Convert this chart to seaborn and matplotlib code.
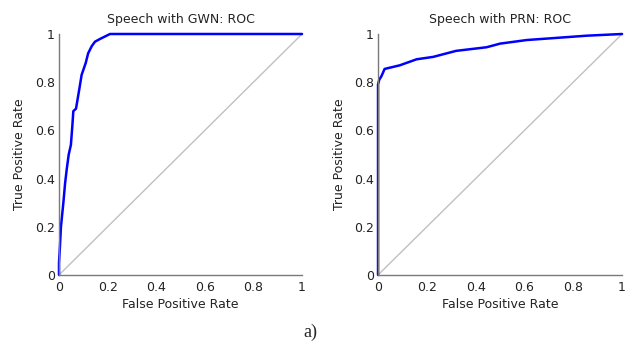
import numpy as np
import pandas as pd
import matplotlib
matplotlib.use("Agg")
import matplotlib.pyplot as plt
import seaborn as sns

# Data
gwn_fpr = [0, 0, 0.004, 0.008, 0.013, 0.018, 0.025, 0.032, 0.040, 0.049, 0.055, 0.059,
           0.070, 0.075, 0.085, 0.093, 0.110, 0.120, 0.135, 0.148, 0.170, 0.210, 1.0]
gwn_tpr = [0, 0.05, 0.12, 0.20, 0.25, 0.30, 0.38, 0.44, 0.50, 0.54, 0.62, 0.68,
           0.69, 0.72, 0.78, 0.83, 0.88, 0.92, 0.95, 0.968, 0.98, 1.0, 1.0]

prn_fpr = [0, 0, 0.005, 0.014, 0.027, 0.089, 0.158, 0.226, 0.320, 0.445, 0.500,
           0.610, 0.720, 0.856, 1.0]
prn_tpr = [0, 0.79, 0.81, 0.825, 0.855, 0.87, 0.895, 0.905, 0.93, 0.945, 0.96,
           0.975, 0.983, 0.993, 1.0]

titles = ["Speech with GWN: ROC", "Speech with PRN: ROC"]
tick_vals = [0, 0.2, 0.4, 0.6, 0.8, 1]
tick_labels = ["0", "0.2", "0.4", "0.6", "0.8", "1"]
diag = [0, 1]

sns.set_style("white")
plt.rcParams['font.family'] = ['DejaVu Sans']

fig = plt.figure(figsize=(6.33, 3.43), dpi=100)
positions = [[0.0932, 0.1983, 0.3839, 0.7026], [0.5972, 0.1983, 0.3855, 0.7026]]
curves = [(gwn_fpr, gwn_tpr), (prn_fpr, prn_tpr)]

for pos, (fx, ty), title in zip(positions, curves, titles):
    ax = fig.add_axes(pos)
    sns.lineplot(x=diag, y=diag, ax=ax, color="#c0c0c0", linewidth=1.0)
    df = pd.DataFrame({"fpr": fx, "tpr": ty})
    sns.lineplot(data=df, x="fpr", y="tpr", ax=ax, sort=False, estimator=None,
                 color="#0000ff", linewidth=1.8)
    for ln in ax.lines:
        ln.set_clip_on(False)
    ax.set_xlim(0, 1)
    ax.set_ylim(0, 1)
    ax.set_xticks(tick_vals)
    ax.set_xticklabels(tick_labels)
    ax.set_yticks(tick_vals)
    ax.set_yticklabels(tick_labels)
    for s in ["top", "right"]:
        ax.spines[s].set_visible(False)
    for s in ["left", "bottom"]:
        ax.spines[s].set_color("#7a7a7a")
        ax.spines[s].set_linewidth(1.0)
    ax.tick_params(direction="in", length=2.5, width=0.8, color="#555555",
                   labelsize=9, labelcolor="#222222")
    ax.tick_params(axis="x", pad=4)
    ax.tick_params(axis="y", pad=3)
    ax.set_xlabel("False Positive Rate", fontsize=9, color="#222222", labelpad=3)
    ax.set_ylabel("True Positive Rate", fontsize=9, color="#222222", labelpad=6)
    ax.set_title(title, fontsize=9, color="#222222", pad=8)

fig.text(0.49, 0.032, "a)", fontsize=13, family="Liberation Serif", ha="center", va="center")

fig.savefig("out.png", dpi=100)
